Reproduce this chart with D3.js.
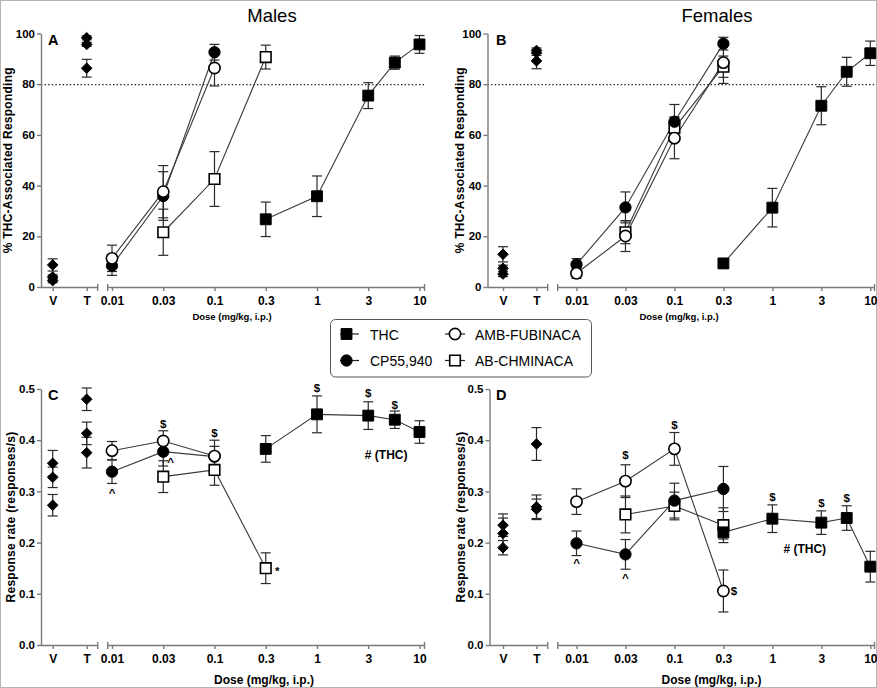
<!DOCTYPE html>
<html><head><meta charset="utf-8">
<script src="https://cdn.jsdelivr.net/npm/d3@7"></script>
<style>
body{margin:0;background:#fff}
svg{display:block}
text{font-family:"Liberation Sans",Arial,Helvetica,sans-serif;fill:#000}
</style>
</head><body>
<svg id="chart" width="877" height="688"></svg>
<script>
// ---------- data ----------
const doseTicks = [0.01, 0.03, 0.1, 0.3, 1, 3, 10];
const doseTickLabels = ["0.01", "0.03", "0.1", "0.3", "1", "3", "10"];
const ctrlLabels = ["V", "T"];
const seriesNames = ["THC", "CP55,940", "AMB-FUBINACA", "AB-CHMINACA"];
const panelTitles = ["Males", "Females"];
const pctTicks = [0, 20, 40, 60, 80, 100];
const rateTicks = [0, 0.1, 0.2, 0.3, 0.4, 0.5];
const criterion = [80];

const thcDoses = [0.3, 1, 3, 5.6, 10];
const maleCpDoses = [0.01, 0.03, 0.1];
const maleAmbDoses = [0.01, 0.03, 0.1];
const femCpDoses = [0.01, 0.03, 0.1, 0.3];
const femAmbDoses = [0.01, 0.03, 0.1, 0.3];
const abDoses = [0.03, 0.1, 0.3];

// Panel A: males, % THC-associated responding
const maleVeh = [8.7, 4.0, 2.5],          maleVehSem = [2.4, 0.8, 0.8];
const maleThcCtrl = [98.3, 95.7, 86.3],   maleThcCtrlSem = [0.8, 0.8, 3.5];
const maleThc = [26.7, 35.8, 75.5, 88.5, 95.7], maleThcSem = [6.8, 8.0, 5.1, 2.6, 3.5];
const maleCp = [8.4, 35.9, 92.6],         maleCpSem = [3.8, 9.6, 3.1];
const maleAmb = [11.3, 37.6, 86.4],       maleAmbSem = [5.2, 10.3, 7.1];
const maleAb = [21.6, 42.6, 90.7],        maleAbSem = [9.1, 10.8, 4.7];

// Panel B: females, % THC-associated responding
const femVeh = [12.9, 7.4, 5.1],          femVehSem = [3.0, 1.2, 1.0];
const femThcCtrl = [93.3, 92.4, 89.2],    femThcCtrlSem = [1.0, 1.0, 3.1];
const femThc = [9.3, 31.3, 71.5, 84.9, 92.2], femThcSem = [0.6, 7.6, 7.5, 5.7, 4.8];
const femCp = [8.9, 31.4, 65.2, 96.0],    femCpSem = [2.3, 6.1, 6.8, 2.5];
const femAmb = [5.4, 20.1, 58.7, 88.5],   femAmbSem = [2.0, 6.1, 8.1, 8.2];
const femAb = [21.6, 62.8, 86.9],         femAbSem = [4.5, 4.3, 4.2];

// Panel C: males, response rate
const maleVehRate = [0.355, 0.3275, 0.273],      maleVehRateSem = [0.025, 0.02, 0.021];
const maleThcCtrlRate = [0.48, 0.4134, 0.3757],  maleThcCtrlRateSem = [0.022, 0.022, 0.03];
const maleThcRate = [0.383, 0.4505, 0.448, 0.44, 0.416], maleThcRateSem = [0.026, 0.036, 0.027, 0.017, 0.022];
const maleCpRate = [0.3385, 0.3776, 0.368],      maleCpRateSem = [0.023, 0.028, 0.02];
const maleAmbRate = [0.3795, 0.3984, 0.369],     maleAmbRateSem = [0.018, 0.02, 0.031];
const maleAbRate = [0.3288, 0.342, 0.15],        maleAbRateSem = [0.031, 0.03, 0.03];

// Panel D: females, response rate
const femVehRate = [0.234, 0.218, 0.19],         femVehRateSem = [0.022, 0.03, 0.014];
const femThcCtrlRate = [0.3926, 0.27, 0.265],    femThcCtrlRateSem = [0.032, 0.023, 0.02];
const femThcRate = [0.22, 0.2467, 0.239, 0.248, 0.153], femThcRateSem = [0.013, 0.027, 0.023, 0.024, 0.03];
const femCpRate = [0.1986, 0.177, 0.282, 0.3047], femCpRateSem = [0.024, 0.029, 0.034, 0.044];
const femAmbRate = [0.28, 0.32, 0.383, 0.1055],  femAmbRateSem = [0.025, 0.032, 0.032, 0.041];
const femAbRate = [0.255, 0.2715, 0.234],        femAbRateSem = [0.036, 0.027, 0.034];

// significance marks: [label, dose, value]
const maleRateMarks = [["$", 0.03, 0.4248], ["$", 0.1, 0.4053], ["^", 0.01, 0.289], ["^", 0.0357, 0.3496],
  ["*", 0.392, 0.1375], ["$", 1, 0.4932], ["$", 3, 0.4834], ["$", 5.6, 0.461], ["# (THC)", 4.57, 0.3633]];
const femRateMarks = [["$", 0.03, 0.3633], ["$", 0.1, 0.4219], ["$", 0.389, 0.0982], ["^", 0.01, 0.1523],
  ["^", 0.03, 0.124], ["$", 1, 0.2818], ["$", 3, 0.270], ["$", 5.6, 0.2799], ["# (THC)", 2.07, 0.1797]];

// ---------- drawing ----------
const svg = d3.select("#chart");
svg.append("rect").attr("x", 0.5).attr("y", 0.5).attr("width", 876).attr("height", 687)
  .attr("fill", "#fff").attr("stroke", "#b4b4b4");

const diamondType = { draw(ctx, size) { const r = Math.sqrt(size / 2);
  ctx.moveTo(0, -r); ctx.lineTo(r, 0); ctx.lineTo(0, r); ctx.lineTo(-r, 0); ctx.closePath(); } };
const markerStyle = {
  thc:  { type: d3.symbolSquare, size: 118, fill: "#000" },
  cp:   { type: d3.symbolCircle, size: 100, fill: "#000" },
  amb:  { type: d3.symbolCircle, size: 100, fill: "#fff" },
  ab:   { type: d3.symbolSquare, size: 112, fill: "#fff" },
  ctrl: { type: diamondType, size: 56, fill: "#000" }
};
function drawMarker(g, key, x, y) {
  const s = markerStyle[key];
  g.append("path").attr("d", d3.symbol().type(s.type).size(s.size)())
    .attr("transform", `translate(${x},${y})`)
    .attr("fill", s.fill).attr("stroke", "#000").attr("stroke-width", s.fill === "#fff" ? 1.6 : 1);
}
const axisColor = "#7a7a7a";

function drawPanel(L, P) {
  const g = svg.append("g");
  const y = d3.scaleLinear().domain(P.yDomain).range([L.yBottom, L.yTop]);
  const xc = d3.scalePoint().domain(ctrlLabels).range(L.ctrl);
  const idx = d3.scaleLinear().domain([0, doseTicks.length - 1]).range(L.dose);
  const xd = d3.scaleLog().domain(doseTicks).range(doseTicks.map((d, i) => idx(i)));

  // reference line
  if (P.ref) g.append("line").attr("x1", L.axisX).attr("x2", L.doseEnd)
    .attr("y1", y(P.ref) + 0.5).attr("y2", y(P.ref) + 0.5)
    .attr("stroke", "#222").attr("stroke-width", 1.2).attr("stroke-dasharray", "1.4,2.2");

  // y axis
  const ya = g.append("g").attr("transform", `translate(${L.axisX},0)`)
    .call(d3.axisLeft(y).tickValues(P.yTicks).tickFormat(P.yFmt).tickSize(4).tickPadding(2).tickSizeOuter(0));
  ya.selectAll("path,line").attr("stroke", axisColor).attr("stroke-width", 1.4);
  ya.selectAll("text").attr("font-size", 11.5).attr("font-weight", "bold").attr("fill", "#000");

  // x axes (control segment + dose segment with break)
  const xa1 = g.append("g").attr("transform", `translate(0,${L.yBottom})`)
    .call(d3.axisBottom(xc).tickSize(4).tickPadding(5));
  const xa2 = g.append("g").attr("transform", `translate(0,${L.yBottom})`)
    .call(d3.axisBottom(xd).tickValues(doseTicks).tickFormat((d, i) => doseTickLabels[i]).tickSize(4).tickPadding(5));
  [xa1, xa2].forEach(a => {
    a.select(".domain").remove();
    a.selectAll("line").attr("stroke", axisColor).attr("stroke-width", 1.4);
    a.selectAll("text").attr("font-size", 12).attr("font-weight", "bold").attr("fill", "#000");
  });
  const yb = L.yBottom + 0.5;
  [[L.axisX, L.ctrlEnd], [L.doseStart, L.doseEnd]].forEach(([a, b]) =>
    g.append("line").attr("x1", a).attr("x2", b).attr("y1", yb).attr("y2", yb)
      .attr("stroke", axisColor).attr("stroke-width", 1.4));
  [L.ctrlEnd, L.doseStart, L.doseEnd].forEach(x =>
    g.append("line").attr("x1", x).attr("x2", x).attr("y1", yb - 3.5).attr("y2", yb + 3.5)
      .attr("stroke", axisColor).attr("stroke-width", 1.4));

  // labels
  g.append("text").attr("transform", `translate(${L.yLabelX},${(L.yTop + L.yBottom) / 2}) rotate(-90)`)
    .attr("text-anchor", "middle").attr("font-size", 12).attr("font-weight", "bold")
    .attr("letter-spacing", 0.25).text(P.yLabel);
  g.append("text").attr("x", L.xLabelX).attr("y", L.xLabelY).attr("text-anchor", "middle")
    .attr("font-size", L.xLabelSize).attr("font-weight", "bold").text("Dose (mg/kg, i.p.)");
  g.append("text").attr("x", L.letterX).attr("y", L.yTop + 11).attr("font-size", 14.5)
    .attr("font-weight", "bold").text(P.letter);

  const errColor = "#2a2a2a", cap = 5;
  function errBar(x, m, s) {
    g.append("line").attr("x1", x).attr("x2", x).attr("y1", y(m - s)).attr("y2", y(m + s))
      .attr("stroke", errColor).attr("stroke-width", 1.2);
    [m - s, m + s].forEach(v => g.append("line").attr("x1", x - cap).attr("x2", x + cap)
      .attr("y1", y(v)).attr("y2", y(v)).attr("stroke", errColor).attr("stroke-width", 1.2));
  }

  // connecting lines
  P.series.forEach(s => {
    g.append("path").datum(s.doses.map((d, i) => [xd(d), y(s.mean[i])]))
      .attr("d", d3.line()).attr("fill", "none").attr("stroke", "#3a3a3a").attr("stroke-width", 1.1);
  });
  // control error bars + markers
  [["V", P.veh, P.vehSem], ["T", P.tc, P.tcSem]].forEach(([c, m, s]) => {
    m.forEach((v, i) => errBar(xc(c), v, s[i]));
  });
  [["V", P.veh], ["T", P.tc]].forEach(([c, m]) => m.forEach(v => drawMarker(g, "ctrl", xc(c), y(v))));
  // series error bars + markers
  P.series.forEach(s => s.doses.forEach((d, i) => errBar(xd(d), s.mean[i], s.sem[i])));
  P.series.forEach(s => s.doses.forEach((d, i) => drawMarker(g, s.key, xd(d), y(s.mean[i]))));

  // significance marks
  (P.marks || []).forEach(([t, d, v]) => {
    g.append("text").attr("x", xd(d)).attr("y", y(v)).attr("text-anchor", "middle")
      .attr("font-size", t.length > 1 ? 12 : 11.5).attr("font-weight", "bold").text(t);
  });
}

const layoutLeft = { axisX: 41, ctrl: [52.7, 86.7], ctrlEnd: 97.7, doseStart: 107.7, dose: [112, 419.5], doseEnd: 424.5,
  letterX: 48, yLabelX: 12 };
const layoutRight = { axisX: 487.5, ctrl: [503, 536.5], ctrlEnd: 547.7, doseStart: 557.7, dose: [576.5, 870.3], doseEnd: 874.5,
  letterX: 496, yLabelX: 463.5 };
const topY = { yTop: 33.5, yBottom: 287 };
const botY = { yTop: 389, yBottom: 645 };

function mk(key, doses, mean, sem) { return { key, doses, mean, sem }; }

drawPanel({ ...layoutLeft, ...topY, xLabelX: 232, xLabelY: 319.5, xLabelSize: 9.5 }, {
  yDomain: [0, 100], yTicks: pctTicks, yFmt: d3.format("d"), ref: criterion[0],
  yLabel: "% THC-Associated Responding", letter: "A",
  veh: maleVeh, vehSem: maleVehSem, tc: maleThcCtrl, tcSem: maleThcCtrlSem,
  series: [mk("ab", abDoses, maleAb, maleAbSem), mk("cp", maleCpDoses, maleCp, maleCpSem),
           mk("amb", maleAmbDoses, maleAmb, maleAmbSem), mk("thc", thcDoses, maleThc, maleThcSem)]
});
drawPanel({ ...layoutRight, ...topY, xLabelX: 679, xLabelY: 319.5, xLabelSize: 9.5 }, {
  yDomain: [0, 100], yTicks: pctTicks, yFmt: d3.format("d"), ref: criterion[0],
  yLabel: "% THC-Associated Responding", letter: "B",
  veh: femVeh, vehSem: femVehSem, tc: femThcCtrl, tcSem: femThcCtrlSem,
  series: [mk("ab", abDoses, femAb, femAbSem), mk("cp", femCpDoses, femCp, femCpSem),
           mk("amb", femAmbDoses, femAmb, femAmbSem), mk("thc", thcDoses, femThc, femThcSem)]
});
drawPanel({ ...layoutLeft, ...botY, yLabelX: 15, xLabelX: 264, xLabelY: 684, xLabelSize: 12 }, {
  yDomain: [0, 0.5], yTicks: rateTicks, yFmt: d3.format(".1f"), ref: null,
  yLabel: "Response rate (responses/s)", letter: "C", marks: maleRateMarks,
  veh: maleVehRate, vehSem: maleVehRateSem, tc: maleThcCtrlRate, tcSem: maleThcCtrlRateSem,
  series: [mk("ab", abDoses, maleAbRate, maleAbRateSem), mk("cp", maleCpDoses, maleCpRate, maleCpRateSem),
           mk("amb", maleAmbDoses, maleAmbRate, maleAmbRateSem), mk("thc", thcDoses, maleThcRate, maleThcRateSem)]
});
drawPanel({ ...layoutRight, axisX: 489.5, ...botY, yLabelX: 465, xLabelX: 711.5, xLabelY: 684, xLabelSize: 12 }, {
  yDomain: [0, 0.5], yTicks: rateTicks, yFmt: d3.format(".1f"), ref: null,
  yLabel: "Response rate (responses/s)", letter: "D", marks: femRateMarks,
  veh: femVehRate, vehSem: femVehRateSem, tc: femThcCtrlRate, tcSem: femThcCtrlRateSem,
  series: [mk("ab", abDoses, femAbRate, femAbRateSem), mk("cp", femCpDoses, femCpRate, femCpRateSem),
           mk("amb", femAmbDoses, femAmbRate, femAmbRateSem), mk("thc", thcDoses, femThcRate, femThcRateSem)]
});

// titles
svg.append("text").attr("x", 272).attr("y", 22).attr("text-anchor", "middle").attr("font-size", 18.5).text(panelTitles[0]);
svg.append("text").attr("x", 717).attr("y", 22).attr("text-anchor", "middle").attr("font-size", 18.5).text(panelTitles[1]);

// legend
const lg = svg.append("g");
lg.append("rect").attr("x", 330.5).attr("y", 319.5).attr("width", 261).attr("height", 57.5).attr("rx", 5)
  .attr("fill", "#fff").attr("stroke", "#555").attr("stroke-width", 1);
const legendKeys = ["thc", "cp", "amb", "ab"];
const legendPos = [[346.5, 334, 340, 359, 370], [346.5, 360.5, 340, 359, 370], [455, 334, 445, 465, 475], [455, 360.5, 445, 465, 475]];
seriesNames.forEach((name, i) => {
  const [cx, cy, l1, l2, tx] = legendPos[i];
  lg.append("line").attr("x1", l1).attr("x2", l2).attr("y1", cy).attr("y2", cy).attr("stroke", "#222").attr("stroke-width", 1.2);
  drawMarker(lg, legendKeys[i], cx, cy);
  lg.append("text").attr("x", tx).attr("y", cy + 5.5).attr("font-size", 14).text(name);
});
</script>
</body></html>
